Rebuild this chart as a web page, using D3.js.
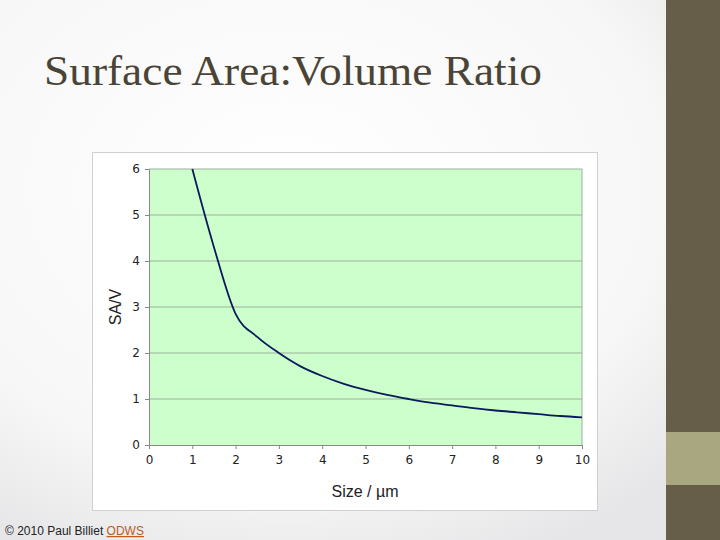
<!DOCTYPE html>
<html>
<head>
<meta charset="utf-8">
<script src="https://cdn.jsdelivr.net/npm/d3@7"></script>
<style>
body { margin: 0; }
svg { display: block; }
</style>
</head>
<body>
<div id="viz"></div>
<script>
// data (SA/V for a cube of side x)
var sizes = [1, 1.5, 2, 2.5, 3, 3.5, 4, 4.5, 5, 5.5, 6, 6.5, 7, 7.5, 8, 8.5, 9, 9.5, 10];
var ratios = [6, 4.3, 2.85, 2.35, 2, 1.71, 1.5, 1.33, 1.2, 1.09, 1, 0.92, 0.86, 0.8, 0.75, 0.71, 0.67, 0.63, 0.6];
var xTicks = [0, 1, 2, 3, 4, 5, 6, 7, 8, 9, 10];
var yTicks = [0, 1, 2, 3, 4, 5, 6];

var w = 720, h = 540;
var svg = d3.select('#viz').append('svg').attr('width', w).attr('height', h);

var defs = svg.append('defs');
var grad = defs.append('radialGradient').attr('id', 'bg').attr('cx', '40%').attr('cy', '35%').attr('r', '75%');
grad.append('stop').attr('offset', '0%').attr('stop-color', '#ffffff');
grad.append('stop').attr('offset', '70%').attr('stop-color', '#f7f7f7');
grad.append('stop').attr('offset', '100%').attr('stop-color', '#e6e6e8');
svg.append('rect').attr('width', w).attr('height', h).attr('fill', 'url(#bg)');

// sidebar
svg.append('rect').attr('x', 666).attr('y', 0).attr('width', 54).attr('height', h).attr('fill', '#665e48');
svg.append('rect').attr('x', 666).attr('y', 432).attr('width', 54).attr('height', 53).attr('fill', '#a8a780');

svg.append('text').attr('x', 44).attr('y', 85)
	.attr('font-family', 'Liberation Serif, serif').attr('font-size', 42)
	.attr('textLength', 498).attr('lengthAdjust', 'spacingAndGlyphs')
	.attr('fill', '#4a4436').text('Surface Area:Volume Ratio');

// chart box
svg.append('rect').attr('x', 92.5).attr('y', 152.5).attr('width', 505).attr('height', 358)
	.attr('fill', '#fff').attr('stroke', '#d0d0d0');

var x = d3.scaleLinear().domain([0, 10]).range([149, 582]);
var y = d3.scaleLinear().domain([0, 6]).range([445, 169]);

svg.append('rect').attr('x', x(0)).attr('y', y(6)).attr('width', x(10) - x(0)).attr('height', y(0) - y(6))
	.attr('fill', '#ccffcc');

svg.append('g').selectAll('line').data(yTicks.slice(1)).enter().append('line')
	.attr('x1', x(0)).attr('x2', x(10))
	.attr('y1', function(d){ return y(d); }).attr('y2', function(d){ return y(d); })
	.attr('stroke', '#9cb09c').attr('stroke-width', 1);
svg.append('line').attr('x1', x(10)).attr('x2', x(10)).attr('y1', y(6)).attr('y2', y(0)).attr('stroke', '#9cb09c');

var xAxis = svg.append('g').attr('transform', 'translate(0,' + y(0) + ')')
	.call(d3.axisBottom(x).tickValues(xTicks).tickSize(4).tickPadding(6));
var yAxis = svg.append('g').attr('transform', 'translate(' + x(0) + ',0)')
	.call(d3.axisLeft(y).tickValues(yTicks).tickFormat(d3.format('d')).tickSize(4).tickPadding(5));
[xAxis, yAxis].forEach(function(a){
	a.select('.domain').attr('stroke', '#888');
	a.selectAll('.tick line').attr('stroke', '#888');
	a.selectAll('text').attr('font-family', 'DejaVu Sans, Verdana, sans-serif').attr('font-size', 12).attr('fill', '#222');
});

svg.append('path').datum(sizes)
	.attr('fill', 'none').attr('stroke', '#0a1a5a').attr('stroke-width', 1.8)
	.attr('d', d3.line()
		.x(function(d){ return x(d); })
		.y(function(d, i){ return y(ratios[i]); })
		.curve(d3.curveMonotoneX));

svg.append('text').attr('x', 365).attr('y', 497).attr('text-anchor', 'middle')
	.attr('font-family', 'Liberation Sans, Arial, sans-serif').attr('font-size', 16).attr('fill', '#222')
	.text('Size / µm');
svg.append('text').attr('transform', 'translate(121,' + y(3) + ') rotate(-90)').attr('text-anchor', 'middle')
	.attr('font-family', 'Liberation Sans, Arial, sans-serif').attr('font-size', 16).attr('fill', '#222')
	.text('SA/V');

var foot = svg.append('text').attr('x', 5).attr('y', 535)
	.attr('font-family', 'Liberation Sans Narrow, Liberation Sans, Arial, sans-serif').attr('font-size', 12).attr('fill', '#222');
foot.append('tspan').text('© 2010 Paul Billiet ');
foot.append('tspan').attr('fill', '#c05a1a').attr('text-decoration', 'underline').text('ODWS');
</script>
</body>
</html>
